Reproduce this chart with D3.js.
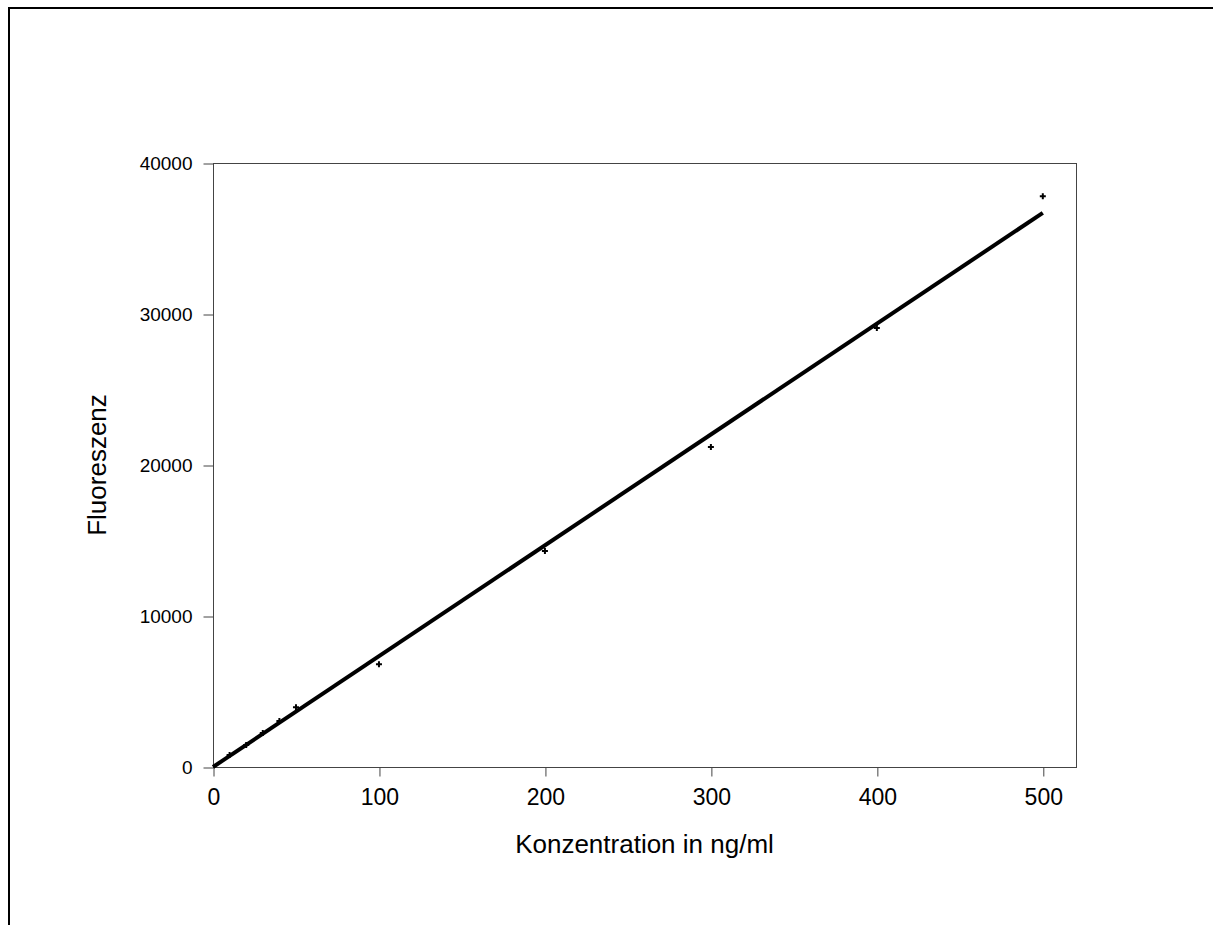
<!DOCTYPE html>
<html>
<head>
<meta charset="utf-8">
<script src="https://cdn.jsdelivr.net/npm/d3@7"></script>
<style>
  body { margin: 0; background: #fff; }
  svg { display: block; font-family: "Liberation Sans", Arial, sans-serif; }
</style>
</head>
<body>
<div id="chart"></div>
<script>
// Messwerte (Kalibrierung)
var konzentration = [10, 20, 30, 40, 50, 100, 200, 300, 400, 500];
var fluoreszenz = [800, 1450, 2250, 3050, 3950, 6800, 14300, 21200, 29070, 37800];

// lineare Regression (Geradenparameter aus dem Bild)
var fitSlope = 73.4;
var fitIntercept = 0;
var fitRange = [0, 500];

var xTicks = [0, 100, 200, 300, 400, 500];
var yTicks = [0, 10000, 20000, 30000, 40000];

var width = 1213, height = 925;
var margin = { top: 163, right: 137, bottom: 158, left: 213 };

var svg = d3.select("#chart").append("svg")
    .attr("width", width)
    .attr("height", height);

// äußerer Rahmen
svg.append("path")
    .attr("d", `M9,${height} L9,8 L${width},8`)
    .attr("fill", "none")
    .attr("stroke", "#000")
    .attr("stroke-width", 2);

var x = d3.scaleLinear()
    .domain([0, 520])
    .range([margin.left, width - margin.right]);

var y = d3.scaleLinear()
    .domain([0, 40000])
    .range([height - margin.bottom, margin.top]);

// Plotfläche
svg.append("rect")
    .attr("x", x(0) + 0.5)
    .attr("y", y(40000) + 0.5)
    .attr("width", x(520) - x(0))
    .attr("height", y(0) - y(40000))
    .attr("fill", "none")
    .attr("stroke", "#444")
    .attr("stroke-width", 1);

var xAxis = g => g
    .attr("transform", `translate(0.5,${y(0) + 0.5})`)
    .call(d3.axisBottom(x).tickValues(xTicks).tickSize(9).tickPadding(12).tickFormat(d3.format("d")))
    .call(g => g.select(".domain").remove());

var yAxis = g => g
    .attr("transform", `translate(${x(0) + 0.5},0.5)`)
    .call(d3.axisLeft(y).tickValues(yTicks).tickSize(10).tickPadding(11).tickFormat(d3.format("d")))
    .call(g => g.select(".domain").remove());

svg.append("g").call(xAxis)
    .call(g => g.selectAll("line").attr("stroke", "#444"))
    .selectAll("text")
    .attr("font-size", 23)
    .attr("fill", "#000");

svg.append("g").call(yAxis)
    .call(g => g.selectAll("line").attr("stroke", "#444"))
    .selectAll("text")
    .attr("font-size", 19)
    .attr("fill", "#000");

// Ausgleichsgerade
var line = d3.line()
    .x(d => x(d))
    .y(d => y(fitSlope * d + fitIntercept));

svg.append("path")
    .datum(fitRange)
    .attr("d", line)
    .attr("fill", "none")
    .attr("stroke", "#000")
    .attr("stroke-width", 4);

// Messpunkte als "+"
var data = konzentration.map((k, i) => ({ k: k, f: fluoreszenz[i] }));
svg.append("g")
    .selectAll("path")
    .data(data)
    .enter()
    .append("path")
    .attr("transform", d => `translate(${x(d.k)},${y(d.f)})`)
    .attr("d", "M-3,0 L3,0 M0,-3 L0,3")
    .attr("stroke", "#000")
    .attr("stroke-width", 2);

// Achsentitel
svg.append("text")
    .attr("x", (x(0) + x(520)) / 2)
    .attr("y", 853)
    .attr("text-anchor", "middle")
    .attr("font-size", 26)
    .text("Konzentration in ng/ml");

svg.append("text")
    .attr("transform", `translate(106,${(y(0) + y(40000)) / 2}) rotate(-90)`)
    .attr("text-anchor", "middle")
    .attr("font-size", 26)
    .text("Fluoreszenz");
</script>
</body>
</html>
